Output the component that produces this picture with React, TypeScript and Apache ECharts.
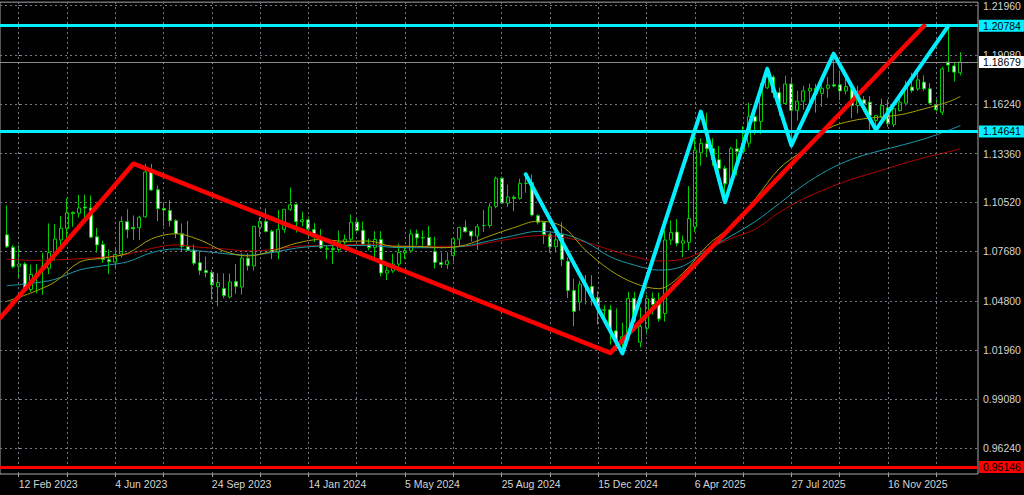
import React, { useEffect, useRef } from "react";
import * as echarts from "echarts";

// ---------- data ----------
const firstWeek = -2; // week index of first candle (0 = 12 Feb 2023)
// weekly candles: [open, high, low, close]
const candles: number[][] = [
  [1.0864, 1.1034, 1.0787, 1.0796], [1.0792, 1.0805, 1.0669, 1.0678], [1.0681, 1.0804, 1.0613, 1.0694],
  [1.0694, 1.0706, 1.0533, 1.0546], [1.0546, 1.0691, 1.0533, 1.0634], [1.0629, 1.0694, 1.0524, 1.0640],
  [1.0682, 1.0760, 1.0516, 1.0669], [1.0670, 1.0930, 1.0636, 1.0760], [1.0760, 1.0926, 1.0713, 1.0839],
  [1.0834, 1.0973, 1.0788, 1.0902], [1.0900, 1.1076, 1.0831, 1.0992], [1.0993, 1.1000, 1.0910, 1.0988],
  [1.0989, 1.1095, 1.0964, 1.1020], [1.1025, 1.1097, 1.0942, 1.1019], [1.1019, 1.1092, 1.0848, 1.0850],
  [1.0852, 1.0904, 1.0760, 1.0805], [1.0808, 1.0829, 1.0702, 1.0721], [1.0719, 1.0779, 1.0635, 1.0708],
  [1.0705, 1.0787, 1.0664, 1.0750], [1.0752, 1.0971, 1.0732, 1.0941], [1.0940, 1.1012, 1.0844, 1.0893],
  [1.0907, 1.0976, 1.0834, 1.0899], [1.0905, 1.0975, 1.0834, 1.0966], [1.0968, 1.1276, 1.0962, 1.1229],
  [1.1229, 1.1276, 1.1121, 1.1124], [1.1125, 1.1149, 1.0944, 1.1016], [1.1017, 1.1045, 1.0913, 1.1008],
  [1.1005, 1.1065, 1.0912, 1.0946], [1.0946, 1.0955, 1.0844, 1.0871], [1.0870, 1.0930, 1.0766, 1.0796],
  [1.0796, 1.0945, 1.0770, 1.0773], [1.0775, 1.0807, 1.0686, 1.0699], [1.0702, 1.0769, 1.0631, 1.0657],
  [1.0657, 1.0737, 1.0617, 1.0645], [1.0646, 1.0660, 1.0488, 1.0573], [1.0562, 1.0640, 1.0448, 1.0587],
  [1.0552, 1.0640, 1.0495, 1.0510], [1.0503, 1.0639, 1.0494, 1.0590], [1.0592, 1.0695, 1.0522, 1.0565],
  [1.0561, 1.0756, 1.0517, 1.0729], [1.0728, 1.0756, 1.0656, 1.0684], [1.0683, 1.0914, 1.0657, 1.0913],
  [1.0908, 1.0965, 1.0852, 1.0941], [1.0941, 1.1017, 1.0877, 1.0883], [1.0885, 1.0894, 1.0723, 1.0762],
  [1.0763, 1.1009, 1.0723, 1.0896], [1.0895, 1.1013, 1.0875, 1.1012], [1.1012, 1.1139, 1.1002, 1.1038],
  [1.1040, 1.1046, 1.0877, 1.0940], [1.0940, 1.0998, 1.0914, 1.0951], [1.0951, 1.0971, 1.0844, 1.0897],
  [1.0895, 1.0932, 1.0821, 1.0852], [1.0849, 1.0897, 1.0781, 1.0788], [1.0780, 1.0805, 1.0722, 1.0784],
  [1.0785, 1.0806, 1.0695, 1.0777], [1.0778, 1.0888, 1.0762, 1.0821], [1.0821, 1.0865, 1.0796, 1.0838],
  [1.0838, 1.0981, 1.0822, 1.0937], [1.0938, 1.0964, 1.0882, 1.0889], [1.0890, 1.0942, 1.0802, 1.0808],
  [1.0809, 1.0842, 1.0774, 1.0790], [1.0790, 1.0885, 1.0724, 1.0837], [1.0836, 1.0885, 1.0622, 1.0642],
  [1.0642, 1.0680, 1.0601, 1.0656], [1.0654, 1.0753, 1.0643, 1.0694], [1.0694, 1.0812, 1.0650, 1.0761],
  [1.0759, 1.0791, 1.0723, 1.0771], [1.0771, 1.0895, 1.0760, 1.0869], [1.0870, 1.0895, 1.0805, 1.0846],
  [1.0846, 1.0889, 1.0788, 1.0848], [1.0848, 1.0916, 1.0801, 1.0801], [1.0768, 1.0852, 1.0668, 1.0703],
  [1.0703, 1.0762, 1.0671, 1.0692], [1.0692, 1.0762, 1.0666, 1.0713], [1.0744, 1.0844, 1.0710, 1.0841],
  [1.0839, 1.0910, 1.0797, 1.0907], [1.0908, 1.0948, 1.0877, 1.0882], [1.0885, 1.0886, 1.0825, 1.0857],
  [1.0857, 1.0926, 1.0777, 1.0911], [1.0917, 1.1009, 1.0881, 1.0918], [1.0918, 1.1048, 1.0905, 1.1026],
  [1.1029, 1.1202, 1.1018, 1.1193], [1.1193, 1.1202, 1.1044, 1.1048], [1.1048, 1.1155, 1.1026, 1.1083],
  [1.1082, 1.1093, 1.1002, 1.1075], [1.1075, 1.1190, 1.1068, 1.1163], [1.1162, 1.1214, 1.1109, 1.1164],
  [1.1166, 1.1214, 1.0970, 1.0979], [1.0975, 1.0983, 1.0924, 1.0937], [1.0937, 1.0940, 1.0811, 1.0866],
  [1.0865, 1.0872, 1.0761, 1.0795], [1.0795, 1.0905, 1.0761, 1.0835], [1.0865, 1.0937, 1.0683, 1.0720],
  [1.0710, 1.0732, 1.0496, 1.0541], [1.0541, 1.0609, 1.0332, 1.0419], [1.0473, 1.0597, 1.0423, 1.0577],
  [1.0569, 1.0630, 1.0460, 1.0567], [1.0564, 1.0630, 1.0452, 1.0500], [1.0500, 1.0536, 1.0343, 1.0430],
  [1.0428, 1.0455, 1.0389, 1.0426], [1.0428, 1.0457, 1.0226, 1.0308], [1.0306, 1.0437, 1.0215, 1.0244],
  [1.0240, 1.0353, 1.0178, 1.0272], [1.0273, 1.0533, 1.0266, 1.0495], [1.0495, 1.0533, 1.0356, 1.0363],
  [1.0240, 1.0442, 1.0210, 1.0331], [1.0320, 1.0513, 1.0285, 1.0493], [1.0495, 1.0528, 1.0400, 1.0459],
  [1.0476, 1.0528, 1.0360, 1.0375], [1.0407, 1.0890, 1.0360, 1.0834], [1.0834, 1.0947, 1.0806, 1.0877],
  [1.0880, 1.0955, 1.0797, 1.0815], [1.0815, 1.0860, 1.0733, 1.0829], [1.0820, 1.1147, 1.0775, 1.0959],
  [1.0910, 1.1474, 1.0880, 1.1356], [1.1340, 1.1424, 1.1265, 1.1395], [1.1395, 1.1572, 1.1315, 1.1364],
  [1.1364, 1.1425, 1.1265, 1.1300], [1.1300, 1.1380, 1.1190, 1.1250], [1.1250, 1.1265, 1.1065, 1.1160],
  [1.1160, 1.1375, 1.1128, 1.1364], [1.1364, 1.1420, 1.1210, 1.1348], [1.1348, 1.1495, 1.1345, 1.1396],
  [1.1396, 1.1631, 1.1372, 1.1550], [1.1550, 1.1615, 1.1446, 1.1523], [1.1523, 1.1745, 1.1450, 1.1718],
  [1.1718, 1.1830, 1.1710, 1.1780], [1.1780, 1.1790, 1.1660, 1.1690], [1.1690, 1.1720, 1.1556, 1.1627],
  [1.1627, 1.1788, 1.1620, 1.1740], [1.1740, 1.1770, 1.1390, 1.1587], [1.1587, 1.1700, 1.1528, 1.1640],
  [1.1640, 1.1730, 1.1590, 1.1700], [1.1700, 1.1743, 1.1584, 1.1715], [1.1715, 1.1740, 1.1574, 1.1685],
  [1.1685, 1.1750, 1.1608, 1.1715], [1.1715, 1.1780, 1.1660, 1.1733], [1.1735, 1.1918, 1.1720, 1.1728],
  [1.1735, 1.1819, 1.1645, 1.1700], [1.1700, 1.1780, 1.1680, 1.1725], [1.1712, 1.1740, 1.1540, 1.1615],
  [1.1615, 1.1730, 1.1570, 1.1648], [1.1648, 1.1670, 1.1580, 1.1625], [1.1634, 1.1670, 1.1470, 1.1557],
  [1.1528, 1.1560, 1.1468, 1.1557], [1.1547, 1.1655, 1.1540, 1.1615], [1.1602, 1.1650, 1.1490, 1.1509],
  [1.1505, 1.1600, 1.1490, 1.1596], [1.1586, 1.1680, 1.1580, 1.1634], [1.1629, 1.1760, 1.1615, 1.1731],
  [1.1722, 1.1805, 1.1690, 1.1702], [1.1712, 1.1808, 1.1700, 1.1764], [1.1751, 1.1790, 1.1700, 1.1712],
  [1.1712, 1.1745, 1.1620, 1.1629], [1.1621, 1.1650, 1.1580, 1.1590], [1.1576, 1.1840, 1.1560, 1.1828],
  [1.1868, 1.2078, 1.1810, 1.1850], [1.1845, 1.1867, 1.1755, 1.1809], [1.1805, 1.1925, 1.1790, 1.18679],
];

// x axis ticks (weeks since 12 Feb 2023)
const dateTickWeeks = [0, 16, 32, 48, 64, 80, 96, 112, 128, 144];
const dateTickLabels = [
  "12 Feb 2023", "4 Jun 2023", "24 Sep 2023", "14 Jan 2024", "5 May 2024",
  "25 Aug 2024", "15 Dec 2024", "6 Apr 2025", "27 Jul 2025", "16 Nov 2025",
];
const gridWeeks = [0, 8, 16, 24, 32, 40, 48, 56, 64, 72, 80, 88, 96, 104, 112, 120, 128, 136, 144, 152];
// price ticks
const priceTicks = [1.2196, 1.1908, 1.1624, 1.1336, 1.1052, 1.0768, 1.048, 1.0196, 0.9908, 0.9624];

// moving averages
const maWeeks = [-2, 2, 6, 10, 14, 18, 22, 26, 30, 34, 38, 42, 46, 50, 54, 58, 62, 66, 70, 74, 78, 82, 86, 90,
  94, 98, 102, 106, 110, 114, 118, 122, 126, 130, 134, 138, 142, 146, 150, 154, 156];
const maFast = [1.0477, 1.0526, 1.059, 1.0704, 1.0729, 1.0756, 1.084, 1.087, 1.0834, 1.0769, 1.0741, 1.077,
  1.0815, 1.0837, 1.0826, 1.0828, 1.0797, 1.0797, 1.0789, 1.0805, 1.0857, 1.0905, 1.0943, 1.0913, 1.0771,
  1.0658, 1.0583, 1.0551, 1.064, 1.0799, 1.0914, 1.1072, 1.1249, 1.1356, 1.1479, 1.1526, 1.1546, 1.1561,
  1.1596, 1.1636, 1.1668];
const maMid = [1.0568, 1.0582, 1.0605, 1.0659, 1.0684, 1.0707, 1.076, 1.0782, 1.077, 1.0755, 1.0745, 1.0761,
  1.0787, 1.0799, 1.0802, 1.0802, 1.0791, 1.0789, 1.0789, 1.0799, 1.0829, 1.0859, 1.0884, 1.087, 1.0821,
  1.0736, 1.0688, 1.0659, 1.0681, 1.0776, 1.0857, 1.0941, 1.1046, 1.1152, 1.1239, 1.1303, 1.1346, 1.1382,
  1.1421, 1.147, 1.1499];
const maSlow = [1.0723, 1.0716, 1.0718, 1.0725, 1.0734, 1.0751, 1.0785, 1.0805, 1.0791, 1.0782, 1.077, 1.0778,
  1.0797, 1.0801, 1.0805, 1.081, 1.0799, 1.0797, 1.0797, 1.0797, 1.0819, 1.0843, 1.0859, 1.085, 1.082,
  1.0776, 1.0736, 1.0712, 1.0722, 1.0781, 1.0842, 1.0897, 1.0994, 1.1073, 1.1134, 1.1187, 1.1229, 1.1272,
  1.1312, 1.1346, 1.1364];

// drawn trend lines
const redTrendWeeks = [-3, 19, 98, 150];
const redTrendPrices = [1.0383, 1.1277, 1.0178, 1.2078];
const cyanTrendWeeks = [84, 100, 113, 117, 124, 128, 135, 142, 154];
const cyanTrendPrices = [1.1215, 1.0175, 1.158, 1.1054, 1.1828, 1.1383, 1.1916, 1.1474, 1.2078];

// horizontal levels
const resistanceLevel = 1.20784;
const supportLevel = 1.14641;
const lowLevel = 0.95146;
const bidPrice = 1.18679;

// ---------- style ----------
const FONT = "'Liberation Sans', Arial, sans-serif";
const GREEN = "#00cc00";
const CYAN = "#00f0ff";
const RED = "#ff0000";
const GRID = "#707a84";
const TEXT = "#d4d4d4";

const X_MIN = -3.0945;
const X_MAX = 158.91;
const Y_MIN = 0.94744;
const Y_MAX = 1.22155;

function levelLine(value: number, color: string, width: number, bg: string) {
  return {
    yAxis: value,
    lineStyle: { color, width, type: "solid" },
    label: {
      show: true,
      position: "end",
      distance: 1,
      formatter: () => value.toFixed(5),
      backgroundColor: bg,
      color: "#000",
      fontFamily: FONT,
      fontSize: 10.5,
      lineHeight: 11,
      padding: [1, 3, 0, 4],
    },
  };
}

export default function App() {
  const ref = useRef<HTMLDivElement>(null);

  useEffect(() => {
    document.body.style.margin = "0";
    document.body.style.background = "#000";
    if (!ref.current) return;
    const chart = echarts.init(ref.current, undefined, { renderer: "svg" });

    const candleData = candles.map((c, i) => [firstWeek + i, c[0], c[3], c[2], c[1]]);
    const pairs = (xs: number[], ys: number[]) => xs.map((x, i) => [x, ys[i]]);

    const option: any = {
      animation: false,
      backgroundColor: "#000",
      grid: {
        left: -1, right: 46, top: 2, bottom: 21,
        show: true, borderColor: "#a8a8a8", borderWidth: 1, backgroundColor: "#000",
      },
      xAxis: {
        type: "value",
        min: X_MIN,
        max: X_MAX,
        axisLine: { show: false },
        splitLine: { show: false },
        axisTick: { show: true, customValues: gridWeeks, length: 3, lineStyle: { color: "#a8a8a8" } },
        axisLabel: {
          customValues: dateTickWeeks,
          formatter: (v: number) => {
            const idx = dateTickWeeks.indexOf(Math.round(v));
            return idx >= 0 ? dateTickLabels[idx] : "";
          },
          align: "left",
          margin: 4,
          color: TEXT,
          fontFamily: FONT,
          fontSize: 10.5,
        },
      },
      yAxis: {
        type: "value",
        position: "right",
        min: Y_MIN,
        max: Y_MAX,
        axisLine: { show: false },
        splitLine: { show: false },
        axisTick: { show: true, customValues: priceTicks, length: 3, lineStyle: { color: "#a8a8a8" } },
        axisLabel: {
          customValues: priceTicks,
          formatter: (v: number) => v.toFixed(5),
          margin: 5,
          color: TEXT,
          fontFamily: FONT,
          fontSize: 10.5,
        },
      },
      series: [
        {
          type: "line",
          data: [],
          z: 1,
          silent: true,
          markLine: {
            silent: true,
            symbol: "none",
            animation: false,
            precision: 6,
            label: { show: false },
            lineStyle: { color: GRID, type: [2, 3], width: 1 },
            data: [
              ...gridWeeks.map((k) => ({ xAxis: k })),
              ...priceTicks.map((p) => ({ yAxis: p })),
            ],
          },
        },
        {
          type: "candlestick",
          data: candleData,
          barWidth: 3.5,
          z: 3,
          itemStyle: {
            color: "#000000",
            color0: "#ffffff",
            borderColor: GREEN,
            borderColor0: GREEN,
            borderWidth: 1,
          },
        },
        {
          type: "line", data: pairs(maWeeks, maSlow), smooth: 0.35, symbol: "none", z: 4, silent: true,
          lineStyle: { color: "#b00000", width: 1 },
        },
        {
          type: "line", data: pairs(maWeeks, maMid), smooth: 0.35, symbol: "none", z: 4, silent: true,
          lineStyle: { color: "#1a9aa8", width: 1 },
        },
        {
          type: "line", data: pairs(maWeeks, maFast), smooth: 0.35, symbol: "none", z: 4, silent: true,
          lineStyle: { color: "#a8a000", width: 1 },
        },
        {
          type: "line", data: pairs(redTrendWeeks, redTrendPrices), symbol: "none", z: 5, silent: true,
          lineStyle: { color: RED, width: 4.5, cap: "round", join: "round" },
        },
        {
          type: "line", data: pairs(cyanTrendWeeks, cyanTrendPrices), symbol: "none", z: 5, silent: true,
          lineStyle: { color: CYAN, width: 4, cap: "round", join: "round" },
        },
        {
          type: "line",
          data: [],
          z: 6,
          silent: true,
          markLine: {
            silent: true,
            symbol: "none",
            animation: false,
            precision: 6,
            data: [
              levelLine(bidPrice, "#8c8c8c", 1, "#ffffff"),
              levelLine(resistanceLevel, CYAN, 3, CYAN),
              levelLine(supportLevel, CYAN, 3, CYAN),
              levelLine(lowLevel, RED, 3, RED),
            ],
          },
        },
      ],
    };

    chart.setOption(option);
    return () => chart.dispose();
  }, []);

  return <div ref={ref} style={{ width: 1024, height: 495 }} />;
}
